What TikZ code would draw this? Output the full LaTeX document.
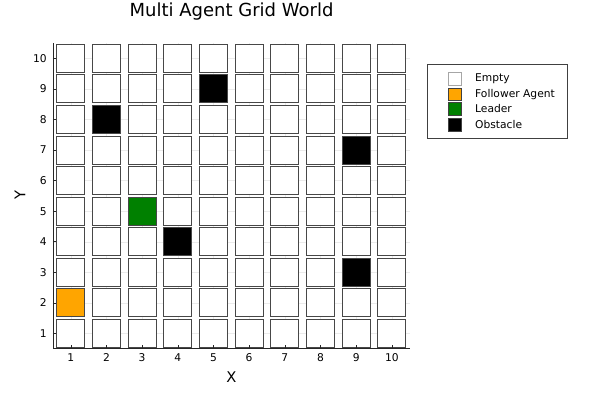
\documentclass[tikz,border=0pt]{standalone}
\usepackage{fontspec}
\setmainfont{DejaVu Sans}
\definecolor{agentorange}{HTML}{FFA500}
\definecolor{leadergreen}{HTML}{008000}
\begin{document}
\begin{tikzpicture}[x=1pt,y=1pt,
  cell/.style={draw=black!72, line width=0.9pt, minimum size=28pt, inner sep=0pt, fill=white},
  follower/.style={cell, fill=agentorange},
  leader/.style={cell, fill=leadergreen},
  obstacle/.style={cell, fill=black},
  legmark/.style={draw=black!75, line width=0.7pt, minimum size=12.5pt, inner sep=0pt},
  legtext/.style={anchor=west, inner sep=0pt, font=\fontsize{10.7}{12}\selectfont},
  ticklab/.style={inner sep=0pt, font=\fontsize{10.7}{12}\selectfont},
  gridline/.style={draw=black!8, line width=0.5pt},
  spine/.style={draw=black!85, line width=0.8pt},
  tickmark/.style={draw=black!85, line width=0.6pt}
]
\useasboundingbox (0,0) rectangle (600,400);
\fill[white] (0,0) rectangle (600,400);
% title and axis labels
\node[inner sep=0pt, font=\fontsize{18}{21}\selectfont] (title) at (231.5,388) {Multi Agent Grid World};
\node[inner sep=0pt, font=\fontsize{14.7}{17}\selectfont] (xlabel) at (231.5,23) {X};
\node[inner sep=0pt, rotate=90, font=\fontsize{14.7}{17}\selectfont] (ylabel) at (20,205) {Y};
% plot area
\begin{scope}[shift={(35.13pt,35.93pt)}, x=35.67pt, y=30.57pt]
  \foreach \k in {1,...,10} {
    \draw[gridline] (\k,0.5) -- (\k,10.5);
    \draw[gridline] (0.5,\k) -- (10.5,\k);
  }
  \foreach \i in {1,...,10} {
    \foreach \j in {1,...,10} {
      \node[cell] (c-\i-\j) at (\i,\j) {};
    }
  }
  \foreach \i/\j in {2/8,5/9,9/7,4/4,9/3} {
    \node[obstacle] (o-\i-\j) at (\i,\j) {};
  }
  \node[leader] (lead) at (3,5) {};
  \node[follower] (foll) at (1,2) {};
  \coordinate (origin) at (0.5,0.5);
  \coordinate (xend) at (10.5,0.5);
  \coordinate (yend) at (0.5,10.5);
  \draw[spine] (xend) -- (origin) -- (yend);
  \foreach \k in {1,...,10} {
    \coordinate (xt\k) at (\k,0.5);
    \coordinate (yt\k) at (0.5,\k);
    \draw[tickmark] (xt\k) -- ++(0,3.5pt);
    \draw[tickmark] (yt\k) -- ++(3.5pt,0);
    \node[ticklab, anchor=north] (xl\k) at ([yshift=-5pt]xt\k) {\k};
    \node[ticklab, anchor=east] (yl\k) at ([xshift=-6pt]yt\k) {\k};
  }
\end{scope}
% legend
\node[draw=black!75, line width=0.7pt, minimum width=139.4pt, minimum height=74.3pt, inner sep=0pt, anchor=north west, fill=white] (legend) at (427.3,336) {};
\node[legmark, draw=black!35, fill=white] (m1) at (455,321) {};
\node[legmark, fill=agentorange] (m2) at (455,305.7) {};
\node[legmark, fill=leadergreen] (m3) at (455,291) {};
\node[legmark, fill=black] (m4) at (455,275) {};
\node[legtext] (t1) at (475,321) {Empty};
\node[legtext] (t2) at (475,305.7) {Follower Agent};
\node[legtext] (t3) at (475,291) {Leader};
\node[legtext] (t4) at (475,275) {Obstacle};
\end{tikzpicture}
\end{document}
